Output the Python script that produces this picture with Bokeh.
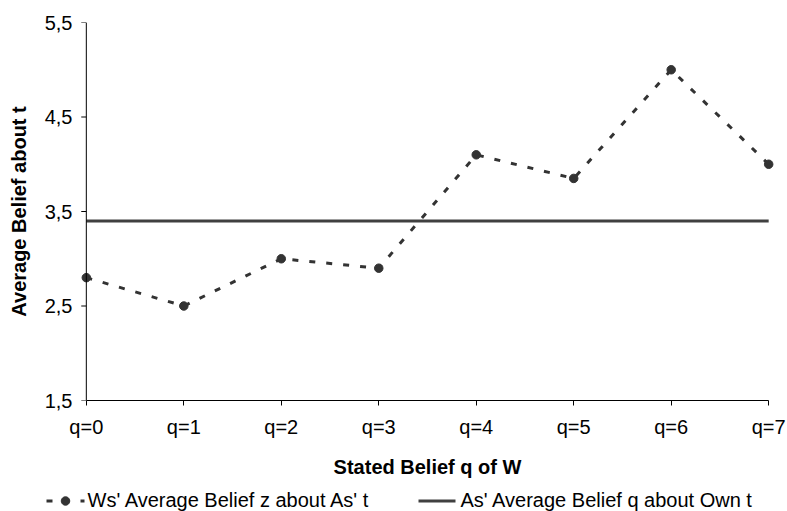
from bokeh.plotting import figure
from bokeh.layouts import column
from bokeh.models import FixedTicker, ColumnDataSource, Range1d, Span
from bokeh.core.properties import value
from bokeh.embed import file_html
from bokeh.resources import INLINE

# data
q_vals = [0, 1, 2, 3, 4, 5, 6, 7]
q_labels = ["q=0", "q=1", "q=2", "q=3", "q=4", "q=5", "q=6", "q=7"]
ws_belief_z = [2.8, 2.5, 3.0, 2.9, 4.1, 3.85, 5.0, 4.0]
as_belief_q = [3.4] * 8
y_ticks = [1.5, 2.5, 3.5, 4.5, 5.5]
y_tick_labels = ["1,5", "2,5", "3,5", "4,5", "5,5"]
legend_labels = ["Ws' Average Belief z about As'  t", "As' Average Belief q about Own t"]

FONT = "Liberation Sans"
pad = 0.07          # horizontal room so edge markers are not cut
tick_len = 0.052    # y tick length in x-data units (~5px)

DASH_STYLE = dict(line_color="#333333", line_width=3, line_dash="6 11")
SOLID_STYLE = dict(line_color="#404040", line_width=3)
PT_STYLE = dict(size=8.5, fill_color="#333333", line_color="#333333")

p = figure(width=787, height=480, output_backend="svg", toolbar_location=None,
           x_range=Range1d(q_vals[0] - pad, q_vals[-1] + pad),
           y_range=Range1d(y_ticks[0], y_ticks[-1]),
           min_border_left=79, min_border_right=12, min_border_top=22,
           min_border_bottom=76)
p.outline_line_color = None
p.grid.visible = False
p.frame_align = False

src = ColumnDataSource(dict(x=q_vals, z=ws_belief_z, q=as_belief_q))
p.line("x", "q", source=src, **SOLID_STYLE)
p.line("x", "z", source=src, **DASH_STYLE)
p.scatter("x", "z", source=src, **PT_STYLE)

# y axis line and outward ticks at q=0
p.add_layout(Span(location=q_vals[0], dimension="height", line_color="black", line_width=1))
p.segment(x0=[q_vals[0] - tick_len] * len(y_ticks), y0=y_ticks,
          x1=[q_vals[0]] * len(y_ticks), y1=y_ticks, line_color="black", line_width=1)

# x axis
xa = p.xaxis[0]
xa.ticker = FixedTicker(ticks=q_vals)
xa.major_label_overrides = {v: l for v, l in zip(q_vals, q_labels)}
xa.bounds = (q_vals[0], q_vals[-1])
xa.axis_label = "Stated Belief q of W"
xa.major_tick_in = 0
xa.major_tick_out = 5
xa.major_label_standoff = 10
xa.axis_label_standoff = 15
xa.axis_line_color = "black"
xa.major_tick_line_color = "black"

# y axis: labels and title only
ya = p.yaxis[0]
ya.ticker = FixedTicker(ticks=y_ticks)
ya.major_label_overrides = {v: l for v, l in zip(y_ticks, y_tick_labels)}
ya.axis_label = "Average Belief about t"
ya.axis_line_color = None
ya.major_tick_line_color = None
ya.major_tick_in = 0
ya.major_tick_out = 0
ya.major_label_standoff = 7
ya.axis_label_standoff = 12

for ax in (xa, ya):
    ax.minor_tick_line_color = None
    ax.major_label_text_font = FONT
    ax.major_label_text_font_size = "20px"
    ax.major_label_text_color = "black"
    ax.axis_label_text_font = FONT
    ax.axis_label_text_font_size = "20px"
    ax.axis_label_text_font_style = "bold"
    ax.axis_label_text_color = "black"

# legend strip below (data units = screen pixels)
LW, LH = 787, 31
lg = figure(width=LW, height=LH, output_backend="svg", toolbar_location=None,
            x_range=Range1d(0, LW), y_range=Range1d(0, LH),
            x_axis_type=None, y_axis_type=None,
            min_border_left=0, min_border_right=0, min_border_top=0, min_border_bottom=0)
lg.outline_line_color = None
lg.grid.visible = False
lg.frame_align = False

gy = 10.5  # glyph centre line
lg.line([46, 84], [gy, gy], **DASH_STYLE)
lg.scatter([65], [gy], **PT_STYLE)
lg.line([418, 455], [gy, gy], **SOLID_STYLE)
lg.text(x=[87, 460], y=[11.5, 11.5], text=legend_labels,
        text_font=value(FONT), text_font_size="20px", text_color="black",
        text_baseline="middle", text_align="left")

layout = column(p, lg, spacing=0)
open("out.html", "w").write(file_html(layout, INLINE))
